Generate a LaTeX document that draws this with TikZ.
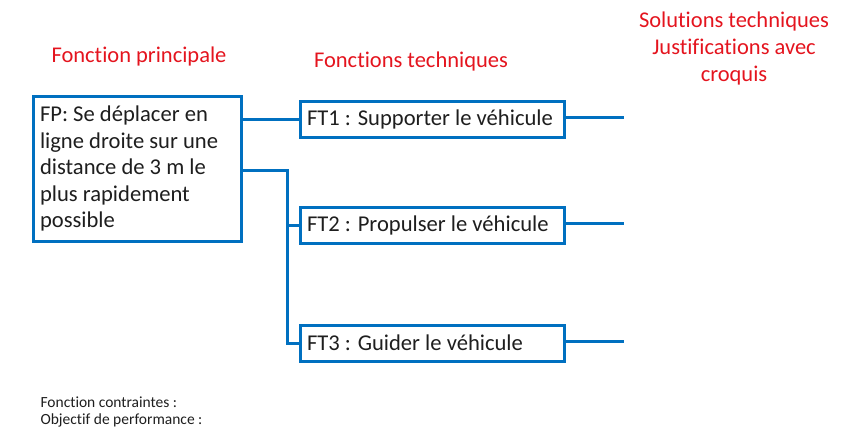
\documentclass[tikz,border=0pt]{standalone}
\usepackage{fontspec}
\setmainfont[Ligatures=NoCommon]{Carlito}
\usepackage{tikz}
\usetikzlibrary{positioning}
\definecolor{boxblue}{RGB}{0,112,192}
\definecolor{titlered}{RGB}{228,20,30}
\definecolor{inktext}{RGB}{30,30,30}

\begin{document}
\begin{tikzpicture}[x=1pt,y=-1pt,
  fbox/.style={draw=boxblue,line width=3pt,rectangle,text=inktext,align=flush left,inner sep=0pt},
  link/.style={draw=boxblue,line width=3pt},
  title/.style={text=titlered,align=center,font=\fontsize{22.5}{27}\selectfont},
  note/.style={text=inktext,anchor=west,font=\fontsize{15.5}{18}\selectfont}]
\useasboundingbox (0,0) rectangle (845,428);
% titres
\node[title] (tfp) at (139,57) {Fonction principale};
\node[title] (tft) at (411,62) {Fonctions techniques};
\node[title] (tst) at (734,49) {Solutions techniques\\Justifications avec\\croquis};
% fonction principale
\node[fbox,minimum width=208,minimum height=145,text width=194,
  font=\fontsize{22.6}{26.5}\selectfont] (fp) at (137,168.5)
  {FP: Se déplacer en ligne droite sur une distance de 3 m le plus rapidement possible};
% fonctions techniques
\foreach \n/\y/\t in %
{1/119/Supporter le véhicule,2/225/Propulser le véhicule,3/343/Guider le véhicule} {
   \node[fbox,minimum width=264,minimum height=36,text width=250,
     font=\fontsize{22.6}{24}\selectfont] (ft\n) at (432,\y) {FT\n\ : \t};
   \coordinate (sol\n) at (624,\y-2);
   \draw[link] (ft\n.east |- sol\n) -- (sol\n);
}
\coordinate (fork) at (287,170);
\draw[link] (fp.east |- ft1) -- (ft1.west);
\draw[link] (fp.east |- fork) -- (fork) |- (ft3.west);
\draw[link] (fork |- ft2) -- (ft2.west);
% notes
\node[note] (fc) at (37,402) {Fonction contraintes :};
\node[note] (op) at (37,420) {Objectif de performance :};
\end{tikzpicture}
\end{document}
